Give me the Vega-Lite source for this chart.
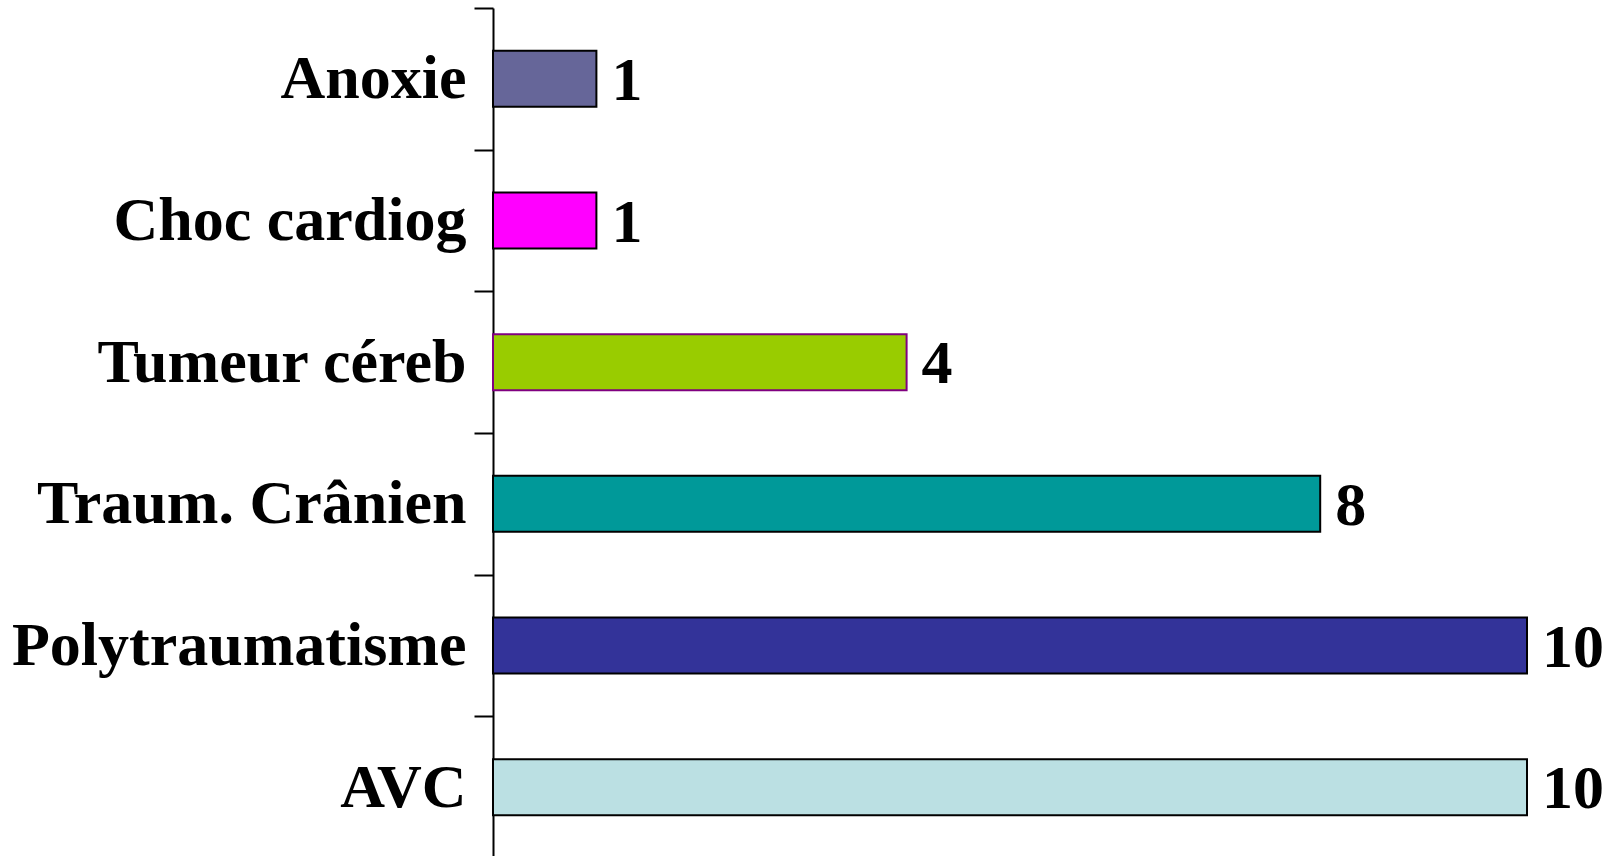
{
  "$schema": "https://vega.github.io/schema/vega-lite/v6.json",
  "width": 1034,
  "height": 850,
  "autosize": {"type": "none"},
  "padding": {"left": 493, "top": 8, "right": 85, "bottom": 0},
  "background": "white",
  "config": {"view": {"stroke": null}},
  "data": {
    "values": [
      {"cause": "Anoxie", "n": 1, "fill": "#666699", "line": "#000000"},
      {"cause": "Choc cardiog", "n": 1, "fill": "#FF00FF", "line": "#000000"},
      {"cause": "Tumeur céreb", "n": 4, "fill": "#99CC00", "line": "#800080"},
      {"cause": "Traum. Crânien", "n": 8, "fill": "#009999", "line": "#000000"},
      {"cause": "Polytraumatisme", "n": 10, "fill": "#333399", "line": "#000000"},
      {"cause": "AVC", "n": 10, "fill": "#BBE0E3", "line": "#000000"}
    ]
  },
  "encoding": {
    "y": {
      "field": "cause",
      "type": "nominal",
      "sort": null,
      "title": null,
      "scale": {"paddingInner": 0, "paddingOuter": 0},
      "axis": {
        "tickBand": "extent",
        "domainColor": "#000000",
        "domainWidth": 2,
        "tickColor": "#000000",
        "tickWidth": 2,
        "tickSize": 19,
        "labelPadding": 8,
        "labelFont": "Liberation Serif",
        "labelFontWeight": "bold",
        "labelFontSize": 62,
        "labelColor": "#000000",
        "labelLimit": 600
      }
    }
  },
  "layer": [
    {
      "mark": {"type": "bar", "height": {"band": 0.395}, "strokeWidth": 2},
      "encoding": {
        "x": {"field": "n", "type": "quantitative", "scale": {"domain": [0, 10], "nice": false}, "axis": null},
        "fill": {"field": "fill", "type": "nominal", "scale": null},
        "stroke": {"field": "line", "type": "nominal", "scale": null}
      }
    },
    {
      "mark": {"type": "text", "align": "left", "baseline": "middle", "dx": 15, "dy": 2, "font": "Liberation Serif", "fontWeight": "bold", "fontSize": 62, "color": "#000000"},
      "encoding": {
        "x": {"field": "n", "type": "quantitative"},
        "text": {"field": "n", "type": "quantitative"}
      }
    }
  ]
}
